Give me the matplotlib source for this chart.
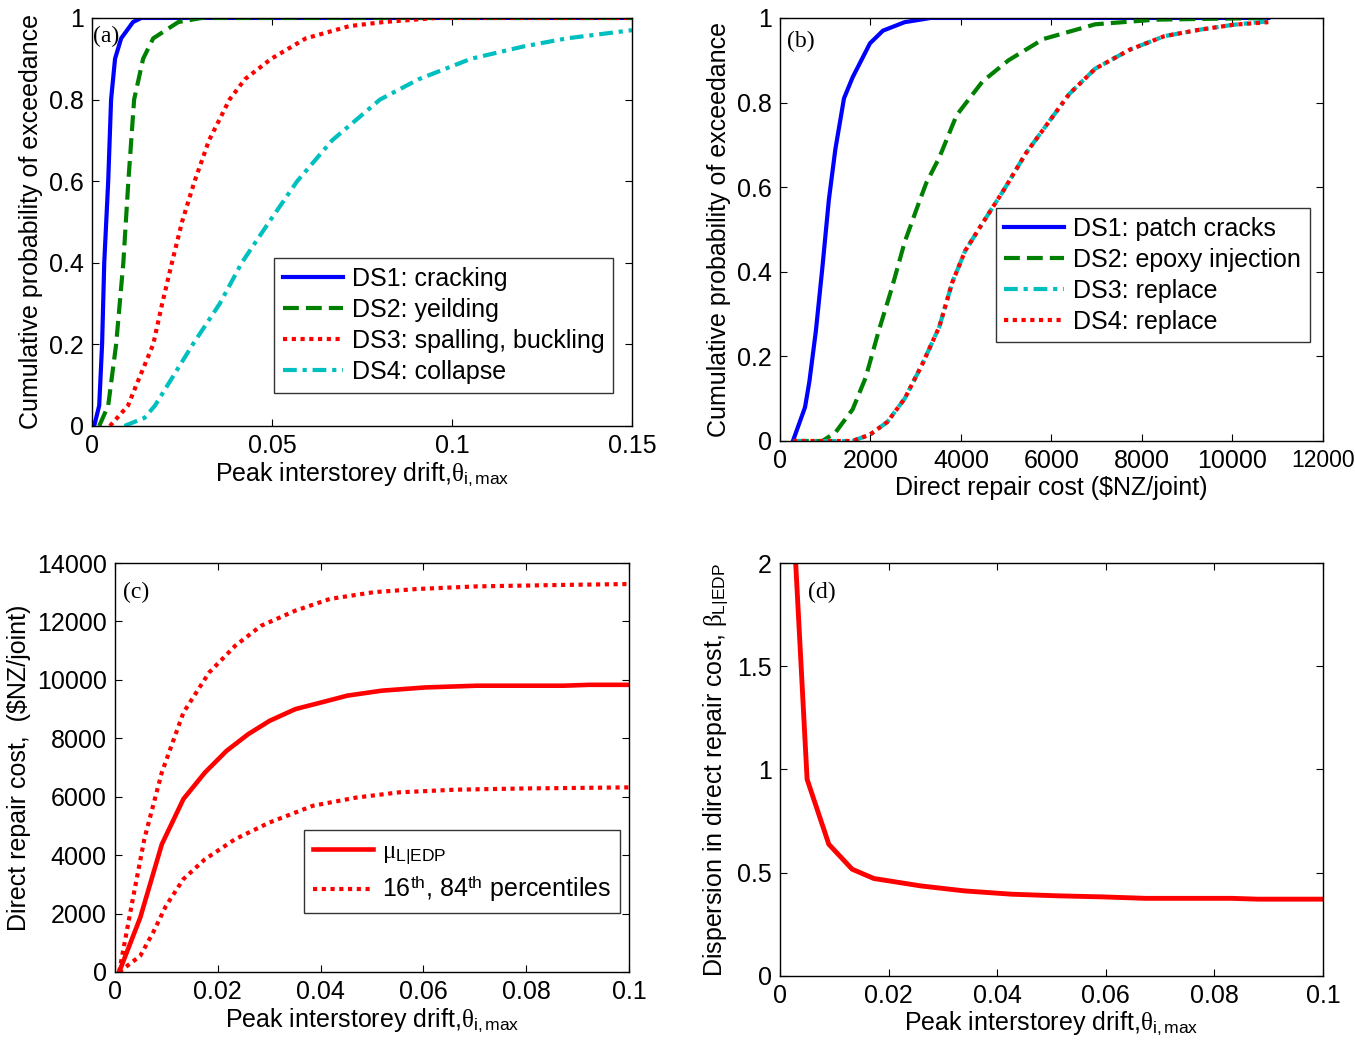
import matplotlib
matplotlib.use("Agg")
import matplotlib.pyplot as plt

plt.rcParams['font.family'] = ['Liberation Sans', 'DejaVu Sans']
plt.rcParams['mathtext.fontset'] = 'custom'
plt.rcParams['mathtext.rm'] = 'Liberation Sans'
plt.rcParams['mathtext.it'] = 'Liberation Serif'
plt.rcParams['font.size'] = 18

# (a) fragility curves: drift vs probability
a_ds1_x = [0.0006, 0.002, 0.0028, 0.0034, 0.0045, 0.0053, 0.0064, 0.0081, 0.0114, 0.0137, 0.15]
a_ds1_y = [0.0, 0.05, 0.2, 0.4, 0.6, 0.8, 0.9, 0.95, 0.99, 1.0, 1.0]
a_ds2_x = [0.002, 0.0045, 0.0067, 0.0087, 0.0101, 0.0117, 0.0142, 0.017, 0.024, 0.0305, 0.15]
a_ds2_y = [0.0, 0.05, 0.2, 0.4, 0.6, 0.8, 0.9, 0.95, 0.99, 1.0, 1.0]
a_ds3_x = [0.005, 0.01, 0.0123, 0.0170, 0.0195, 0.0222, 0.0250, 0.0285, 0.0325, 0.0382,
           0.0425, 0.0498, 0.0594, 0.0715, 0.081, 0.0957, 0.15]
a_ds3_y = [0.0, 0.05, 0.1, 0.2, 0.3, 0.4, 0.5, 0.6, 0.7, 0.8,
           0.85, 0.9, 0.95, 0.98, 0.99, 1.0, 1.0]
a_ds4_x = [0.0090, 0.0146, 0.0175, 0.0210, 0.0280, 0.0355, 0.0416, 0.0492, 0.057, 0.0667,
           0.08, 0.0908, 0.1053, 0.1198, 0.1319, 0.15]
a_ds4_y = [0.0, 0.02, 0.05, 0.1, 0.2, 0.3, 0.4, 0.5, 0.6, 0.7,
           0.8, 0.85, 0.9, 0.93, 0.95, 0.97]
a_labels = ['DS1: cracking', 'DS2: yeilding', 'DS3: spalling, buckling', 'DS4: collapse']

# (b) repair cost distributions
b_ds1_x = [287, 555, 650, 794, 938, 1081, 1225, 1416, 1608, 1799, 1990, 2277, 2756, 3330, 10794]
b_ds1_y = [0.0, 0.08, 0.14, 0.26, 0.41, 0.57, 0.69, 0.81, 0.86, 0.90, 0.94, 0.97, 0.99, 1.0, 1.0]
b_ds2_x = [287, 938, 1225, 1608, 1895, 2182, 2469, 2756, 3043, 3234, 3522, 3904, 4478, 5053,
           5818, 6967, 8306, 10794]
b_ds2_y = [0.0, 0.0, 0.02, 0.075, 0.15, 0.26, 0.36, 0.47, 0.555, 0.61, 0.67, 0.77, 0.85, 0.90,
           0.95, 0.985, 0.996, 1.0]
b_ds3_x = [287, 1600, 1990, 2373, 2756, 3139, 3522, 3809, 4096, 4478, 4957, 5435, 5913, 6392,
           6967, 7732, 8498, 9263, 10029, 10794]
b_ds3_y = [0.0, 0.0, 0.015, 0.045, 0.1, 0.18, 0.27, 0.375, 0.45, 0.515, 0.595, 0.68, 0.75, 0.82,
           0.88, 0.925, 0.957, 0.972, 0.984, 0.992]
b_ds4_x = b_ds3_x
b_ds4_y = [0.0, 0.0, 0.015, 0.045, 0.1, 0.18, 0.27, 0.375, 0.45, 0.515, 0.595, 0.68, 0.75, 0.82,
           0.88, 0.925, 0.957, 0.972, 0.984, 0.99]
b_labels = ['DS1: patch cracks', 'DS2: epoxy injection', 'DS3: replace', 'DS4: replace']

# (c) repair cost vs drift
c_mean_x = [0.0008, 0.0049, 0.0091, 0.0133, 0.0175, 0.0217, 0.0259, 0.0301, 0.0351, 0.0402,
            0.0452, 0.0519, 0.0603, 0.0704, 0.0788, 0.0872, 0.0923, 0.1]
c_mean_y = [0, 1860, 4370, 5920, 6830, 7570, 8140, 8600, 9000, 9230,
            9460, 9630, 9740, 9800, 9800, 9800, 9830, 9830]
c_p84_x = [0.0008, 0.0032, 0.0057, 0.0091, 0.0133, 0.0183, 0.0234, 0.0284, 0.0351, 0.0418,
           0.0503, 0.0587, 0.0704, 0.0872, 0.1]
c_p84_y = [0, 2260, 4550, 6830, 8880, 10250, 11170, 11850, 12370, 12770,
           13000, 13110, 13200, 13250, 13280]
c_p16_x = [0.0008, 0.0049, 0.0074, 0.0099, 0.0133, 0.0175, 0.0234, 0.0301, 0.0385, 0.0469,
           0.0553, 0.0662, 0.0788, 0.1]
c_p16_y = [0, 550, 1350, 2260, 3180, 3860, 4550, 5120, 5690, 5970,
           6150, 6240, 6280, 6320]

# (d) dispersion vs drift
d_x = [0.0024, 0.0029, 0.005, 0.009, 0.0133, 0.0173, 0.026, 0.034, 0.0427, 0.0514,
       0.0594, 0.0673, 0.0832, 0.088, 0.1]
d_y = [2.6, 2.0, 0.953, 0.638, 0.517, 0.472, 0.436, 0.412, 0.396, 0.388,
       0.383, 0.376, 0.376, 0.372, 0.372]

blue = '#0000ff'
green = '#008000'
red = '#ff0000'
cyan = '#00bfbf'
lw = 3.0
dot = (0, (1, 1.1))
dashdot = (0, (3.3, 1.4, 1, 1.4))
dash = (0, (3.8, 1.7))


def style(ax):
    ax.tick_params(direction='in', top=True, right=True, length=5, width=0.8, pad=6)
    for s in ax.spines.values():
        s.set_linewidth(1.0)


def legend(ax, **kw):
    lg = ax.legend(frameon=True, fancybox=False, shadow=False, handlelength=2.4,
                   handletextpad=0.35, borderpad=0.35, labelspacing=0.28,
                   borderaxespad=0.0, **kw)
    lg.get_frame().set_edgecolor('black')
    lg.get_frame().set_linewidth(1.0)
    return lg


fig = plt.figure(figsize=(13.55, 10.5), dpi=100)

# panel (a)
ax = fig.add_axes([0.0679, 0.5943, 0.3985, 0.3886])
ax.plot(a_ds1_x, a_ds1_y, color=blue, lw=lw, label=a_labels[0])
ax.plot(a_ds2_x, a_ds2_y, color=green, lw=lw, ls=dash, label=a_labels[1])
ax.plot(a_ds3_x, a_ds3_y, color=red, lw=lw, ls=dot, label=a_labels[2])
ax.plot(a_ds4_x, a_ds4_y, color=cyan, lw=lw, ls=dashdot, label=a_labels[3])
ax.set_xlim(0, 0.15)
ax.set_ylim(0, 1)
ax.set_xticks([0, 0.05, 0.1, 0.15])
ax.set_xticklabels(['0', '0.05', '0.1', '0.15'])
ax.set_yticks([0, 0.2, 0.4, 0.6, 0.8, 1])
ax.set_yticklabels(['0', '0.2', '0.4', '0.6', '0.8', '1'])
ax.set_xlabel(r'Peak interstorey drift,$\theta_{\rm i,max}$', labelpad=1)
ax.set_ylabel('Cumulative probability of exceedance', labelpad=4)
ax.text(0.0003, 0.98, '(a)', family='Liberation Serif', fontsize=17, va='top')
style(ax)
legend(ax, loc='lower right', bbox_to_anchor=(0.965, 0.081))

# panel (b)
ax = fig.add_axes([0.5756, 0.58, 0.4007, 0.4029])
ax.plot(b_ds1_x, b_ds1_y, color=blue, lw=lw, label=b_labels[0])
ax.plot(b_ds2_x, b_ds2_y, color=green, lw=lw, ls=dash, label=b_labels[1])
ax.plot(b_ds3_x, b_ds3_y, color=cyan, lw=lw, ls=dashdot, label=b_labels[2])
ax.plot(b_ds4_x, b_ds4_y, color=red, lw=lw, ls=dot, label=b_labels[3])
ax.set_xlim(0, 12000)
ax.set_ylim(0, 1)
ax.set_xticks([0, 2000, 4000, 6000, 8000, 10000, 12000])
ax.set_xticklabels(['0', '2000', '4000', '6000', '8000', '10000', '12000'])
ax.get_xticklabels()[-1].set_fontsize(16.5)
ax.set_yticks([0, 0.2, 0.4, 0.6, 0.8, 1])
ax.set_yticklabels(['0', '0.2', '0.4', '0.6', '0.8', '1'])
ax.set_xlabel('Direct repair cost ($NZ/joint)', labelpad=2)
ax.set_ylabel('Cumulative probability of exceedance', labelpad=4)
ax.text(150, 0.97, '(b)', family='Liberation Serif', fontsize=17, va='top')
style(ax)
legend(ax, loc='upper right', bbox_to_anchor=(0.976, 0.551))

# panel (c)
ax = fig.add_axes([0.0849, 0.0743, 0.3793, 0.3895])
ax.plot(c_mean_x, c_mean_y, color=red, lw=lw + 0.3, label=r'$\mu_{\rm L|EDP}$')
ax.plot(c_p84_x, c_p84_y, color=red, lw=lw, ls=dot,
        label=r'16$^{\rm th}$, 84$^{\rm th}$ percentiles')
ax.plot(c_p16_x, c_p16_y, color=red, lw=lw, ls=dot)
ax.set_xlim(0, 0.1)
ax.set_ylim(0, 14000)
ax.set_xticks([0, 0.02, 0.04, 0.06, 0.08, 0.1])
ax.set_xticklabels(['0', '0.02', '0.04', '0.06', '0.08', '0.1'])
ax.set_yticks(range(0, 14001, 2000))
ax.set_xlabel(r'Peak interstorey drift,$\theta_{\rm i,max}$', labelpad=1)
ax.set_ylabel('Direct repair cost,  (\\$NZ/joint)', labelpad=4)
ax.text(0.0015, 13350, '(c)', family='Liberation Serif', fontsize=17, va='top')
style(ax)
legend(ax, loc='lower right', bbox_to_anchor=(0.982, 0.144))

# panel (d)
ax = fig.add_axes([0.5756, 0.0705, 0.4007, 0.3933])
ax.plot(d_x, d_y, color=red, lw=lw + 0.5)
ax.set_xlim(0, 0.1)
ax.set_ylim(0, 2)
ax.set_xticks([0, 0.02, 0.04, 0.06, 0.08, 0.1])
ax.set_xticklabels(['0', '0.02', '0.04', '0.06', '0.08', '0.1'])
ax.set_yticks([0, 0.5, 1, 1.5, 2])
ax.set_yticklabels(['0', '0.5', '1', '1.5', '2'])
ax.set_xlabel(r'Peak interstorey drift,$\theta_{\rm i,max}$', labelpad=1)
ax.set_ylabel(r'Dispersion in direct repair cost, $\beta_{\rm L|EDP}$', labelpad=4)
ax.text(0.0052, 1.91, '(d)', family='Liberation Serif', fontsize=17, va='top')
style(ax)

fig.savefig('out.png', dpi=100)
